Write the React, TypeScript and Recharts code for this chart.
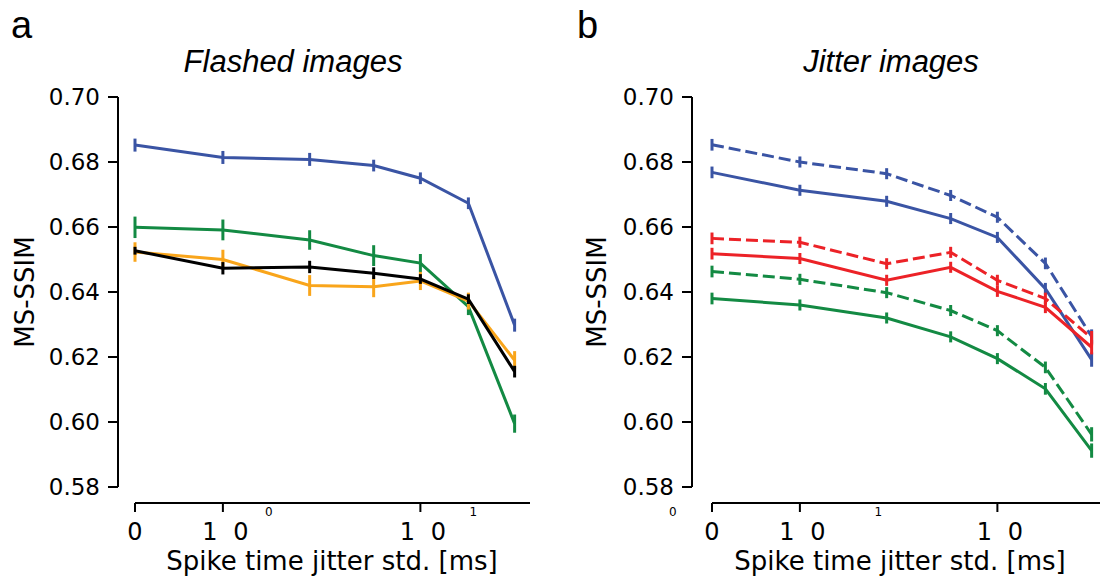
import { LineChart, Line, XAxis, YAxis, ErrorBar, ReferenceLine } from "recharts"

// jitter std. in ms for every measured point, and the labelled ticks
const jitterMs = [0, 1, 2.75, 5.8, 10, 17.5, 30]
const xTickMs = [0, 1, 10]
const yTicks = [0.58, 0.6, 0.62, 0.64, 0.66, 0.68, 0.7]

// a: flashed images
const flashedBlue = [0.6852, 0.6814, 0.6808, 0.6789, 0.675, 0.6673, 0.6298]
const flashedBlueErr = [0.002, 0.002, 0.002, 0.0018, 0.0018, 0.0018, 0.002]
const flashedGreen = [0.6599, 0.6591, 0.656, 0.6512, 0.6489, 0.6355, 0.5995]
const flashedGreenErr = [0.0033, 0.0032, 0.003, 0.0032, 0.0028, 0.0026, 0.0028]
const flashedOrange = [0.6523, 0.65, 0.642, 0.6416, 0.6434, 0.6372, 0.619]
const flashedOrangeErr = [0.003, 0.003, 0.0032, 0.0032, 0.0028, 0.0026, 0.0028]
const flashedBlack = [0.6527, 0.6473, 0.6477, 0.6458, 0.644, 0.6378, 0.6155]
const flashedBlackErr = [0.0012, 0.0019, 0.0019, 0.0018, 0.0015, 0.0015, 0.0018]

// b: jitter images (dashed / solid)
const jitterBlueDash = [0.6853, 0.68, 0.6764, 0.6697, 0.663, 0.6488, 0.6263]
const jitterBlue = [0.6768, 0.6713, 0.6679, 0.6626, 0.6568, 0.641, 0.6192]
const jitterRedDash = [0.6565, 0.6553, 0.6487, 0.6522, 0.6436, 0.638, 0.6258]
const jitterRed = [0.6518, 0.6503, 0.6436, 0.6476, 0.6402, 0.6353, 0.623]
const jitterGreenDash = [0.6463, 0.6439, 0.6398, 0.6343, 0.6281, 0.6168, 0.5962]
const jitterGreen = [0.638, 0.636, 0.632, 0.6262, 0.6195, 0.6102, 0.5912]
const jitterErr = [0.0018, 0.0017, 0.0017, 0.0017, 0.0017, 0.0018, 0.0022]

const BLUE = "#3A54A4"
const GREEN = "#138A43"
const ORANGE = "#F9A51B"
const RED = "#EC2227"

// symlog-like axis: linear below 1 ms, log above
const LIN = 0.445
const toAxis = (ms: number) => (ms <= 1 ? ms * LIN : LIN + Math.log10(ms))

const flashedData = jitterMs.map((ms, i) => ({
  x: toAxis(ms),
  blue: flashedBlue[i], blueErr: flashedBlueErr[i],
  green: flashedGreen[i], greenErr: flashedGreenErr[i],
  orange: flashedOrange[i], orangeErr: flashedOrangeErr[i],
  black: flashedBlack[i], blackErr: flashedBlackErr[i],
}))

const jitterData = jitterMs.map((ms, i) => ({
  x: toAxis(ms),
  blueDash: jitterBlueDash[i], blue: jitterBlue[i],
  redDash: jitterRedDash[i], red: jitterRed[i],
  greenDash: jitterGreenDash[i], green: jitterGreen[i],
  err: jitterErr[i],
}))

const flashedSeries = [
  { key: "blue", err: "blueErr", color: BLUE, dashed: false },
  { key: "green", err: "greenErr", color: GREEN, dashed: false },
  { key: "orange", err: "orangeErr", color: ORANGE, dashed: false },
  { key: "black", err: "blackErr", color: "#000", dashed: false },
]

const jitterSeries = [
  { key: "blueDash", err: "err", color: BLUE, dashed: true },
  { key: "blue", err: "err", color: BLUE, dashed: false },
  { key: "greenDash", err: "err", color: GREEN, dashed: true },
  { key: "green", err: "err", color: GREEN, dashed: false },
  { key: "redDash", err: "err", color: RED, dashed: true },
  { key: "red", err: "err", color: RED, dashed: false },
]

const PX_PER_DECADE = 197.5
const PLOT_TOP = 97
const Y_BOTTOM = 487
const X_AXIS_Y = 503
const CHART_H = 577
const yMin = 0.58 - ((X_AXIS_Y - Y_BOTTOM) * 0.12) / (Y_BOTTOM - PLOT_TOP)

const tickFont = "DejaVu Sans, sans-serif"

interface PanelProps {
  left: number
  width: number
  yAxisWidth: number
  zeroPad: number
  marginRight: number
  data: any[]
  series: { key: string; err: string; color: string; dashed: boolean }[]
  supDx: number[]
}

const Panel = ({ left, width, yAxisWidth, zeroPad, marginRight, data, series, supDx }: PanelProps) => {
  const plotW = width - yAxisWidth - marginRight
  const xMin = -zeroPad / PX_PER_DECADE
  const xMax = xMin + plotW / PX_PER_DECADE

  const renderTick = (props: any) => {
    const { x, y, payload } = props
    const idx = xTickMs.findIndex((ms) => Math.abs(toAxis(ms) - payload.value) < 1e-6)
    const ms = xTickMs[idx]
    if (ms === 0) {
      return (
        <text x={x} y={y + 28} textAnchor="middle" fontSize={24} fontFamily={tickFont} fill="#000">0</text>
      )
    }
    return (
      <g>
        <text x={x - 13} y={y + 28} textAnchor="middle" fontSize={24} fontFamily={tickFont} fill="#000">1</text>
        <text x={x + 18} y={y + 28} textAnchor="middle" fontSize={24} fontFamily={tickFont} fill="#000">0</text>
        <text x={x + supDx[idx - 1]} y={y + 4} textAnchor="middle" fontSize={12} fontFamily={tickFont} fill="#000">
          {String(Math.round(Math.log10(ms)))}
        </text>
      </g>
    )
  }

  return (
    <div style={{ position: "absolute", left, top: 0 }}>
      <LineChart
        width={width}
        height={CHART_H}
        data={data}
        margin={{ top: PLOT_TOP, right: marginRight, bottom: 0, left: 0 }}
      >
        <XAxis
          dataKey="x"
          type="number"
          domain={[xMin, xMax]}
          allowDataOverflow
          ticks={xTickMs.map(toAxis)}
          interval={0}
          height={CHART_H - X_AXIS_Y}
          axisLine={false}
          tickLine={{ stroke: "#000", strokeWidth: 2 }}
          tickSize={9}
          tickMargin={0}
          tick={renderTick}
        />
        <YAxis
          type="number"
          domain={[yMin, 0.7]}
          allowDataOverflow
          ticks={yTicks}
          interval={0}
          width={yAxisWidth}
          axisLine={false}
          tickLine={{ stroke: "#000", strokeWidth: 2 }}
          tickSize={10}
          tickMargin={8}
          tickFormatter={(v: number) => v.toFixed(2)}
          tick={{ fill: "#000", fontSize: 23, fontFamily: tickFont }}
        />
        <ReferenceLine
          segment={[{ x: 0, y: yMin }, { x: xMax, y: yMin }]}
          stroke="#000"
          strokeWidth={2}
          ifOverflow="visible"
        />
        <ReferenceLine
          segment={[{ x: xMin, y: 0.58 }, { x: xMin, y: 0.7 }]}
          stroke="#000"
          strokeWidth={2}
          ifOverflow="visible"
        />
        {series.map((s) => (
          <Line
            key={s.key}
            dataKey={s.key}
            stroke={s.color}
            strokeWidth={3}
            strokeDasharray={s.dashed ? "12 5" : undefined}
            dot={false}
            activeDot={false}
            isAnimationActive={false}
          >
            <ErrorBar dataKey={s.err} width={0} stroke={s.color} strokeWidth={3} direction="y" isAnimationActive={false} />
          </Line>
        ))}
      </LineChart>
    </div>
  )
}

export default function App() {
  const labelFont = "DejaVu Sans, sans-serif"
  const titleFont = "Liberation Sans, Arial, sans-serif"
  return (
    <div style={{ position: "absolute", left: 0, top: 0, width: 1101, height: 577, background: "#fff" }}>
      <Panel
        left={0}
        width={560}
        yAxisWidth={118}
        zeroPad={17}
        marginRight={30}
        data={flashedData}
        series={flashedSeries}
        supDx={[46, 53]}
      />
      <Panel
        left={560}
        width={541}
        yAxisWidth={132}
        zeroPad={20}
        marginRight={1}
        data={jitterData}
        series={jitterSeries}
        supDx={[-127, -119]}
      />
      <svg width={1101} height={577} style={{ position: "absolute", left: 0, top: 0, pointerEvents: "none" }}>
        <text x={11} y={38} fontSize={38} fontFamily={titleFont}>a</text>
        <text x={577} y={38} fontSize={38} fontFamily={titleFont}>b</text>
        <text x={293} y={72} fontSize={31} fontStyle="italic" textAnchor="middle" fontFamily={titleFont}>Flashed images</text>
        <text x={891} y={72} fontSize={31} fontStyle="italic" textAnchor="middle" fontFamily={titleFont}>Jitter images</text>
        <text x={332} y={570} fontSize={26} textAnchor="middle" fontFamily={labelFont}>Spike time jitter std. [ms]</text>
        <text x={900} y={570} fontSize={26} textAnchor="middle" fontFamily={labelFont}>Spike time jitter std. [ms]</text>
        <text x={34} y={292} fontSize={26} textAnchor="middle" fontFamily={labelFont} transform="rotate(-90 34 292)">MS-SSIM</text>
        <text x={606} y={292} fontSize={26} textAnchor="middle" fontFamily={labelFont} transform="rotate(-90 606 292)">MS-SSIM</text>
      </svg>
    </div>
  )
}
